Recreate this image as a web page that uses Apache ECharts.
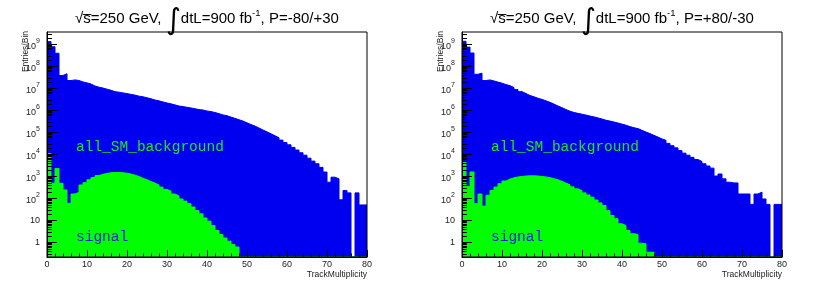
<!DOCTYPE html>
<html><head><meta charset="utf-8">
<script src="https://cdn.jsdelivr.net/npm/echarts@6.0.0/dist/echarts.min.js"></script>
<style>html,body{margin:0;padding:0;background:#fff}#c{width:830px;height:289px}</style>
</head><body><div id="c"></div>
<script>
// TrackMultiplicity bins 0..79 (width 1), Entries/Bin
const bgLeft = [1.35e9,7.9e8,4.0e8,3.9e7,4.7e7,2.3e7,2.45e7,2.3e7,2.0e7,1.8e7,
  1.6e7,1.3e7,1.15e7,1.05e7,9.3e6,8.3e6,7.2e6,6.8e6,6.3e6,5.9e6,
  5.4e6,5.0e6,4.5e6,4.2e6,3.8e6,3.4e6,3.0e6,2.75e6,2.45e6,2.2e6,
  2.0e6,1.8e6,1.6e6,1.5e6,1.4e6,1.3e6,1.2e6,1.1e6,1.05e6,9.5e5,
  8.9e5,8.1e5,7.2e5,6.3e5,5.8e5,5.0e5,4.4e5,3.8e5,3.3e5,2.75e5,
  2.3e5,1.95e5,1.6e5,1.3e5,1.07e5,8.7e4,7.1e4,5.8e4,4.5e4,3.5e4,
  2.75e4,2.1e4,1.6e4,1.2e4,9300,6800,5000,3800,2600,1600,
  550,930,780,87,230,180,0,180,51,51];
const sigLeft = [11000,490,2300,490,245,60,160,190,410,520,
  710,890,1100,1260,1380,1480,1510,1510,1480,1410,
  1290,1150,1000,830,710,590,500,410,330,260,
  215,160,130,95,76,58,41,28,20,13,
  9.3,5.9,3.5,2.3,1.6,1.15,0.81,0.62,0,0,
  0,0,0,0,0,0,0,0,0,0, 0,0,0,0,0,0,0,0,0,0, 0,0,0,0,0,0,0,0,0,0];
const bgRight = [1.4e9,7.6e8,4.1e8,4.4e7,5.0e7,2.3e7,2.45e7,2.2e7,1.95e7,1.75e7,
  1.5e7,1.35e7,1.1e7,8.9e6,7.2e6,5.9e6,4.8e6,4.2e6,3.6e6,3.2e6,
  2.75e6,2.35e6,1.95e6,1.6e6,1.35e6,1.1e6,9.3e5,8.1e5,7.4e5,6.8e5,
  6.2e5,5.6e5,5.1e5,4.6e5,4.1e5,3.6e5,3.3e5,3.0e5,2.7e5,2.4e5,
  2.15e5,1.85e5,1.65e5,1.5e5,1.25e5,1.05e5,8.9e4,7.4e4,6.2e4,5.1e4,
  4.4e4,3.2e4,2.5e4,2.0e4,1.5e4,1.15e4,9300,7400,5900,4800,
  3800,3000,2400,1050,1300,780,550,510,510,160,
  160,160,54,160,195,95,54,0,54,54];
const sigRight = [4500,355,1600,58,160,45,140,230,330,470,
  620,760,870,950,1000,1050,1070,1070,1050,1000,
  950,890,790,710,600,500,420,340,275,225,
  180,145,115,85,63,48,28,17,12,7.1,
  5.9,3.5,2.5,2.3,0.93,0.87,0.36,0.36,0,0,
  0,0,0,0,0,0,0,0,0,0, 0,0,0,0,0,0,0,0,0,0, 0,0,0,0,0,0,0,0,0,0];
const xTickValues = [0,10,20,30,40,50,60,70,80];
const yTickValues = [1,10,1e2,1e3,1e4,1e5,1e6,1e7,1e8,1e9];
const panelTitles = ['P=-80/+30','P=+80/-30'];

const YMIN = 0.219, YMAX = 3.7e9;
const yMinorValues = [];
for (let k = -1; k <= 9; k++) for (let m = 2; m <= 9; m++) {
  const v = m * Math.pow(10, k); if (v > YMIN && v < YMAX) yMinorValues.push(v);
}
const BLUE = '#0000f0', GREEN = '#00ff00';
const FONT = 'Liberation Sans';

function hist(vals) {
  const d = vals.map((v, i) => [i, v > 0 ? v : YMIN]);
  const last = vals[vals.length - 1];
  d.push([vals.length, last > 0 ? last : YMIN]);
  return d;
}
const panels = [
  {left: 47, bg: bgLeft, sig: sigLeft, title: panelTitles[0]},
  {left: 462, bg: bgRight, sig: sigRight, title: panelTitles[1]}
];
const W = 320, H = 225, TOP = 32;
const grid = [], xAxis = [], yAxis = [], series = [], graphic = [];
panels.forEach((p, gi) => {
  grid.push({left: p.left, top: TOP, width: W, height: H, show: true,
    borderColor: '#000', borderWidth: 1, backgroundColor: 'transparent', z: 5});
  xAxis.push({type: 'value', gridIndex: gi, min: xTickValues[0], max: xTickValues[xTickValues.length - 1], interval: 10,
    axisLine: {show: true, onZero: false, lineStyle: {color: '#000', width: 1}},
    axisTick: {inside: true, length: 7, lineStyle: {color: '#000'}},
    minorTick: {show: true, splitNumber: 5, length: 3.5, lineStyle: {color: '#000'}},
    splitLine: {show: false},
    axisLabel: {fontSize: 9, color: '#222', margin: 3, fontFamily: FONT},
    name: 'TrackMultiplicity', nameLocation: 'end', nameGap: 0,
    nameTextStyle: {align: 'right', verticalAlign: 'top', fontSize: 8.5, color: '#222',
      fontFamily: FONT, padding: [13, 0, 0, 0]}, z: 6});
  yAxis.push({type: 'log', logBase: 10, gridIndex: gi, position: 'left', offset: 0, min: YMIN, max: YMAX,
    axisLine: {show: true, lineStyle: {color: '#000'}},
    axisTick: {inside: true, length: 10, customValues: yTickValues, lineStyle: {color: '#000'}},
    splitLine: {show: false}, minorTick: {show: false},
    axisLabel: {customValues: yTickValues, margin: 7, fontFamily: FONT,
      formatter: v => {
        const e = Math.round(Math.log10(v));
        if (e === 0) return '{c|1}';
        if (e === 1) return '{c|10}';
        return '{b|10}{s|' + e + '}';
      },
      rich: {
        c: {fontSize: 9, color: '#222', fontFamily: FONT, lineHeight: 13, verticalAlign: 'middle'},
        b: {fontSize: 9, color: '#222', fontFamily: FONT, lineHeight: 13, verticalAlign: 'bottom'},
        s: {fontSize: 7, color: '#222', fontFamily: FONT, lineHeight: 13, verticalAlign: 'top'}
      }}, z: 6});
  yAxis.push({type: 'log', logBase: 10, gridIndex: gi, position: 'left', offset: 0, min: YMIN, max: YMAX,
    axisLine: {show: false}, splitLine: {show: false}, axisLabel: {show: false},
    axisTick: {inside: true, length: 5, customValues: yMinorValues, lineStyle: {color: '#000'}}, z: 6});
  const yi = gi * 2;
  series.push({type: 'line', xAxisIndex: gi, yAxisIndex: yi, step: 'end', symbol: 'none',
    data: hist(p.bg), lineStyle: {color: BLUE, width: 1}, areaStyle: {color: BLUE, opacity: 1, origin: 'start'},
    silent: true, animation: false, z: 2});
  series.push({type: 'line', xAxisIndex: gi, yAxisIndex: yi, step: 'end', symbol: 'none',
    data: hist(p.sig), lineStyle: {color: GREEN, width: 1}, areaStyle: {color: GREEN, opacity: 1, origin: 'start'},
    silent: true, animation: false, z: 3});
  const cx = p.left + W / 2;
  graphic.push({type: 'text', x: cx, y: 19, z: 10, style: {
    text: '{t|\u221As\u0305=250 GeV, }{i|\u222B}{t|dtL=900 fb}{s|-1}{t|, ' + p.title + '}',
    align: 'center', verticalAlign: 'middle',
    rich: {
      t: {fontSize: 15, fontFamily: FONT, fill: '#000', verticalAlign: 'middle', lineHeight: 30},
      i: {fontSize: 29, fontFamily: 'DejaVu Sans', fill: '#000', verticalAlign: 'middle', lineHeight: 30, padding: [5, 0, 0, 0]},
      s: {fontSize: 9.5, fontFamily: FONT, fill: '#000', verticalAlign: 'middle', lineHeight: 30, padding: [0, 0, 12, 0]}
    }}});
  graphic.push({type: 'text', x: p.left - 21, y: TOP - 1, rotation: Math.PI / 2, z: 10,
    style: {text: 'Entries/Bin', align: 'right', verticalAlign: 'middle', fontSize: 8.5, fontFamily: FONT, fill: '#222'}});
  graphic.push({type: 'text', x: p.left + 29, y: 147, z: 10,
    style: {text: 'all_SM_background', align: 'left', verticalAlign: 'middle', fontSize: 14.5,
      fontFamily: 'Liberation Mono', fill: '#1fe61f'}});
  graphic.push({type: 'text', x: p.left + 29, y: 237, z: 10,
    style: {text: 'signal', align: 'left', verticalAlign: 'middle', fontSize: 14.5,
      fontFamily: 'Liberation Mono', fill: '#2222dd'}});
});
const chart = echarts.init(document.getElementById('c'), null, {renderer: 'canvas'});
chart.setOption({animation: false, backgroundColor: '#fff', grid, xAxis, yAxis, series, graphic});
</script></body></html>
